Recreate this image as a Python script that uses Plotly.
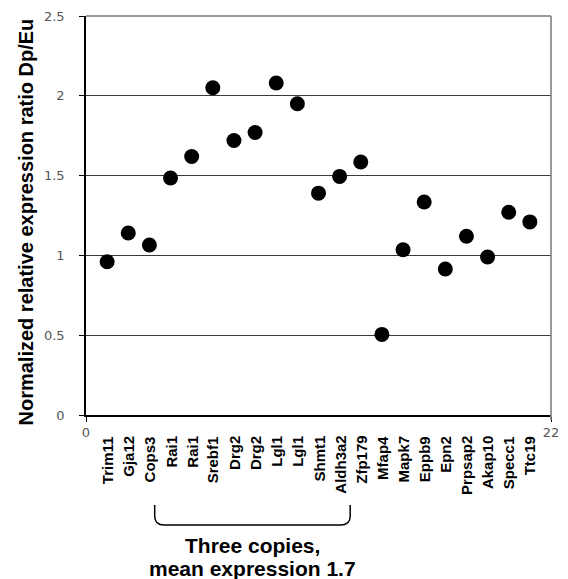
import plotly.graph_objects as go

genes = ["Trim11", "Gja12", "Cops3", "Rai1", "Rai1", "Srebf1", "Drg2", "Drg2",
         "Lgl1", "Lgl1", "Shmt1", "Aldh3a2", "Zfp179", "Mfap4", "Mapk7", "Eppb9",
         "Epn2", "Prpsap2", "Akap10", "Specc1", "Ttc19"]
positions = list(range(1, len(genes) + 1))
ratios = [0.96, 1.14, 1.065, 1.485, 1.62, 2.05, 1.72, 1.77, 2.08, 1.95, 1.39,
          1.495, 1.585, 0.505, 1.035, 1.335, 0.915, 1.12, 0.99, 1.27, 1.21]
y_ticks = [0, 0.5, 1, 1.5, 2, 2.5]
x_ticks = [0, 22]
group_first, group_last = 3, 12   # Cops3 .. Aldh3a2
group_lines = ["Three copies,", "mean expression 1.7"]
y_title = "Normalized relative expression ratio Dp/Eu"

fig = go.Figure()
fig.add_trace(go.Scatter(
    x=positions, y=ratios, mode="markers",
    marker=dict(color="black", size=15, line=dict(width=0)),
    showlegend=False, hoverinfo="skip"))

# page body has an 8px default margin -> figure is 8px smaller
W, H = 560, 571
L, R, T, B = 78, 17, 8, 164
plot_w = W - L - R
plot_h = H - T - B

fig.update_layout(
    width=W, height=H,
    margin=dict(l=L, r=R, t=T, b=B, pad=0, autoexpand=False),
    plot_bgcolor="white", paper_bgcolor="white",
    font=dict(family="Liberation Sans, Arial", color="black"),
    xaxis=dict(range=[x_ticks[0], x_ticks[-1]], tickvals=x_ticks,
               showgrid=False, zeroline=False, automargin=False,
               showline=True, linecolor="black", linewidth=1.5,
               ticks="outside", ticklen=5, tickcolor="black",
               tickfont=dict(family="DejaVu Sans", size=13, color="#555555")),
    yaxis=dict(range=[y_ticks[0], y_ticks[-1]], tickvals=y_ticks,
               ticktext=[f"{v:g}" for v in y_ticks],
               showgrid=True, gridcolor="#3a3a3a", gridwidth=1.2,
               zeroline=False, automargin=False,
               showline=True, linecolor="black", linewidth=1.5,
               ticks="outside", ticklen=5, tickcolor="black",
               ticklabelstandoff=12,
               tickfont=dict(family="DejaVu Sans", size=13, color="#555555")),
)

# top frame (gridline at 2.5) and right frame line
fig.add_shape(type="line", xref="paper", yref="paper",
              x0=0, x1=1, y0=1, y1=1,
              line=dict(color="#3a3a3a", width=1.2))
fig.add_shape(type="line", xref="paper", yref="paper",
              x0=1, x1=1, y0=-5 / plot_h, y1=1,
              line=dict(color="#777777", width=1.5))

# gene labels
for xi, g in zip(positions, genes):
    fig.add_annotation(x=xi, y=0, xref="x", yref="paper", yshift=-19,
                       text=f"<b>{g}</b>", textangle=-90, showarrow=False,
                       xanchor="center", yanchor="top",
                       font=dict(family="Liberation Sans", size=15, color="black"))

# y axis title
fig.add_annotation(x=-61 / plot_w, y=0.5 - 7 / plot_h, xref="paper", yref="paper",
                   text=f"<b>{y_title}</b>", textangle=-90, showarrow=False,
                   xanchor="center", yanchor="middle",
                   font=dict(family="Liberation Sans", size=20, color="black"))

# brace under the three-copy group
x0 = group_first + 0.25
x1 = group_last + 0.5
ytop = -90 / plot_h
ybot = -110 / plot_h
ymid = -101 / plot_h
r = 0.45
path = (f"M {x0},{ytop} L {x0},{ymid} Q {x0},{ybot} {x0 + r},{ybot} "
        f"L {x1 - r},{ybot} Q {x1},{ybot} {x1},{ymid} L {x1},{ytop}")
fig.add_shape(type="path", xref="x", yref="paper", path=path,
              line=dict(color="black", width=1.5))

for k, line in enumerate(group_lines):
    fig.add_annotation(x=(x0 + x1) / 2, y=-(130 + 23 * k) / plot_h,
                       xref="x", yref="paper",
                       text=f"<b>{line}</b>", showarrow=False,
                       xanchor="center", yanchor="middle",
                       font=dict(family="Liberation Sans", size=21, color="black"))

fig.write_html("out.html")
